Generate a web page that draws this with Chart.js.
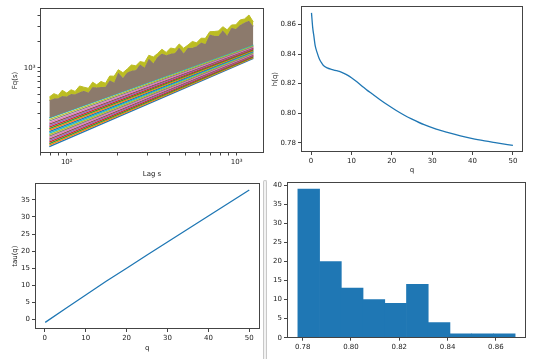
<!DOCTYPE html>
<html><head><meta charset="utf-8">
<script src="https://cdn.jsdelivr.net/npm/chart.js@4.4.1/dist/chart.umd.min.js"></script>
<style>
html,body{margin:0;padding:0;background:#fff;}
#wrap{position:relative;width:537px;height:359px;overflow:hidden;background:#fff;}
canvas{position:absolute;left:0;top:0;}
#sep{position:absolute;left:263px;top:180px;width:2px;height:179px;border:1px solid #c8c8c8;border-bottom:none;border-radius:2px 2px 0 0;background:#f2f2f2;}
</style></head><body>
<div id="wrap">
<canvas id="c1" width="537" height="359"></canvas>
<canvas id="c2" width="537" height="359"></canvas>
<canvas id="c3" width="537" height="359"></canvas>
<canvas id="c4" width="537" height="359"></canvas>
<div id="sep"></div>
</div>
<script>
// ---------- data: Fq(s) vs lag s (top-left) ----------
const lags = [79,84,89,94,100,106,112,119,126,134,142,150,159,169,179,190,201,214,227,240,255,270,287,304,323,342,363,385,408,433,459,487,517,548,581,617,654,694,736,781,828,878,932,988,1048,1112,1180,1252];
const fqTop = [463,506,483,553,514,561,537,620,601,583,686,640,699,667,808,804,956,883,974,1083,1060,1185,1158,1402,1340,1467,1645,1511,1700,1661,1892,1691,1842,2022,1953,2207,2196,2621,2635,2670,2995,2757,3133,3150,3581,3678,4083,3395];
const fqBandTop = [422,444,448,476,468,502,498,524,548,521,602,594,602,608,722,679,887,774,887,932,948,1100,1016,1277,1132,1336,1471,1402,1464,1485,1724,1483,1709,1709,1779,1973,1891,2432,2356,2342,2728,2374,2907,2816,3141,3351,3515,3035];
const stripeLags = [79, 1252];
const stripeStart = [123.7,128.8,134.0,139.5,145.2,151.1,157.3,163.8,170.5,177.5,184.7,192.2,200.1,208.3,216.8,225.7,235.0,244.6,254.6,265.1];
const stripeEnd = [1294,1318,1343,1368,1394,1420,1446,1474,1501,1529,1558,1587,1617,1648,1679,1710,1742,1775,1808,1842];
const fqXTicks = [70,80,90,100,200,300,400,500,600,700,800,900,1000];
const fqYTicks = [200,300,400,500,600,700,800,900,1000,2000,3000,4000];

// ---------- data: h(q) (top-right) ----------
const hQ = [0.1,0.4,0.7,1.0,1.5,2,2.5,3,4,5,6,7,8,9,10,11,12,13,14,15,17,19,21,23,25,28,31,34,37,40,43,46,50];
const hVal = [0.868,0.858,0.852,0.846,0.841,0.837,0.8345,0.8325,0.8307,0.8297,0.829,0.8283,0.8272,0.8258,0.824,0.822,0.8198,0.8175,0.8153,0.8133,0.8093,0.8055,0.802,0.7988,0.796,0.7922,0.7892,0.7868,0.7846,0.7827,0.7812,0.7799,0.7782];
const hXTicks = [0,10,20,30,40,50];
const hYTicks = [0.78,0.80,0.82,0.84,0.86];

// ---------- data: tau(q) (bottom-left) ----------
const tauQ = [0.1,5,10,15,20,25,30,35,40,45,50];
const tauVal = [-0.8,3.2,7.2,11.2,15.0,18.9,22.7,26.5,30.3,34.1,37.9];
const tauXTicks = [0,10,20,30,40,50];
const tauYTicks = [0,5,10,15,20,25,30,35];

// ---------- data: histogram of h(q) (bottom-right) ----------
const binCenters = [0.7825,0.7915,0.8005,0.8095,0.8185,0.8275,0.8365,0.8455,0.8545,0.8635];
const binCounts = [39,20,13,10,9,14,4,1,1,1];
const histXTicks = [0.78,0.80,0.82,0.84,0.86];
const histYTicks = [0,5,10,15,20,25,30,35,40];

const tab10 = ['#1f77b4','#ff7f0e','#2ca02c','#d62728','#9467bd','#8c564b','#e377c2','#7f7f7f','#bcbd22','#17becf'];
const FONT = {family:'DejaVu Sans', size:7, lineHeight:1.2};
const TXT = '#222';

const frame = {id:'frame', afterDatasetsDraw(chart){
  const a = chart.chartArea, c = chart.ctx;
  c.save(); c.strokeStyle = '#444'; c.lineWidth = 1;
  c.strokeRect(Math.round(a.left)+0.5, Math.round(a.top)+0.5, Math.round(a.right-a.left)-1, Math.round(a.bottom-a.top)-1);
  c.restore();
}};

function axis(type, pos, min, max, tickVals, fmt, title, size, tl){
  return {
    type, position: pos, min, max, offset:false,
    afterBuildTicks: s => { s.ticks = tickVals.map(v => ({value:v})); },
    afterFit: s => { if (pos === 'left') s.width = size; else s.height = size; },
    ticks: {callback: fmt, color: TXT, font: FONT, padding: 2, maxRotation: 0, autoSkip: false},
    grid: {drawOnChartArea:false, drawTicks:true, tickLength: tl || 3, tickColor:'#444', tickWidth:1, offset:false},
    border: {display:false},
    title: {display: !!title, text: title || '', color: TXT, font: FONT, padding: 0}
  };
}

function base(pad){
  return {responsive:false, animation:false, devicePixelRatio:1,
    layout:{padding:pad},
    plugins:{legend:{display:false}, tooltip:{enabled:false}}};
}

// ---- Chart 1: Fq(s) ----
(function(){
  const ds = [];
  ds.push({data: lags.map((s,i)=>({x:s,y:fqTop[i]})), borderColor:'#bcbd22', backgroundColor:'#bcbd22', borderWidth:1, pointRadius:0, fill:1});
  ds.push({data: lags.map((s,i)=>({x:s,y:fqBandTop[i]})), borderColor:'rgb(140,122,108)', backgroundColor:'rgb(140,122,108)', borderWidth:1, pointRadius:0, fill:2});
  for (let k = stripeStart.length-1; k >= 0; k--) {
    ds.push({data:[{x:stripeLags[0],y:stripeStart[k]},{x:stripeLags[1],y:stripeEnd[k]}], borderColor: tab10[k%10], borderWidth:1.3, pointRadius:0, fill:false});
  }
  const opts = base({left:11, top:8, right:273, bottom:181});
  opts.scales = {
    x: axis('logarithmic','bottom',69.6,1447,fqXTicks, v => v===100?'10²':(v===1000?'10³':''), 'Lag s', 25, 2.5),
    y: axis('logarithmic','left',104.6,4920,fqYTicks, v => v===1000?'10³':'', 'Fq(s)', 29, 2.5)
  };
  new Chart(document.getElementById('c1'), {type:'line', data:{datasets:ds}, options:opts, plugins:[frame]});
})();

// ---- Chart 2: h(q) ----
(function(){
  const opts = base({left:270.5, top:6, right:14, bottom:184.8});
  opts.scales = {
    x: axis('linear','bottom',-2.5,52.5,hXTicks, v => String(v), 'q', 22.2),
    y: axis('linear','left',0.7737,0.8725,hYTicks, v => v.toFixed(2), 'h(q)', 30.5)
  };
  new Chart(document.getElementById('c2'), {type:'line', data:{datasets:[{data:hQ.map((q,i)=>({x:q,y:hVal[i]})), borderColor:'#1f77b4', borderWidth:1.3, pointRadius:0, cubicInterpolationMode:'monotone', fill:false}]}, options:opts, plugins:[frame]});
})();

// ---- Chart 3: tau(q) ----
(function(){
  const opts = base({left:10.8, top:183.3, right:277.5, bottom:6.8});
  opts.scales = {
    x: axis('linear','bottom',-2.4,52.5,tauXTicks, v => String(v), 'q', 23.2),
    y: axis('linear','left',-2.74,39.84,tauYTicks, v => String(v), 'tau(q)', 24.2)
  };
  new Chart(document.getElementById('c3'), {type:'line', data:{datasets:[{data:tauQ.map((q,i)=>({x:q,y:tauVal[i]})), borderColor:'#1f77b4', borderWidth:1.3, pointRadius:0, fill:false}]}, options:opts, plugins:[frame]});
})();

// ---- Chart 4: histogram ----
(function(){
  const opts = base({left:267, top:181.7, right:11, bottom:3.3});
  opts.scales = {
    x: axis('linear','bottom',0.7735,0.8725,histXTicks, v => v.toFixed(2), '', 18),
    y: axis('linear','left',0,40.95,histYTicks, v => String(v), '', 20)
  };
  new Chart(document.getElementById('c4'), {type:'bar', data:{datasets:[{data:binCenters.map((c,i)=>({x:c,y:binCounts[i]})), backgroundColor:'#1f77b4', borderWidth:0, barPercentage:1, categoryPercentage:1}]}, options:opts, plugins:[frame]});
})();
</script>
</body></html>
